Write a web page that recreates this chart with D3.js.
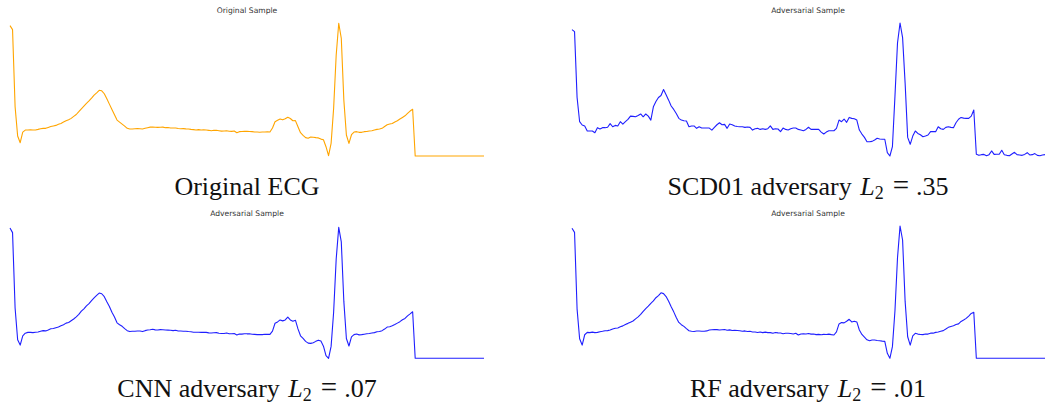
<!DOCTYPE html>
<html>
<head>
<meta charset="utf-8">
<script src="https://cdn.jsdelivr.net/npm/d3@7"></script>
<style>
  body { margin: 0; background: #fff; }
  .title { font-family: "DejaVu Sans", sans-serif; font-size: 7.6px; fill: #333; }
  .caption { font-family: "Liberation Serif", "Times New Roman", serif; font-size: 26px; fill: #111; }
</style>
</head>
<body>
<svg id="chart" width="1045" height="404"></svg>
<script>
// heartbeat samples (187 per beat), normalised 0..1
const originalEcg = [
  0.980, 0.950, 0.370, 0.150, 0.100, 0.180, 0.195, 0.195, 0.197, 0.195,
  0.196, 0.200, 0.205, 0.208, 0.208, 0.215, 0.222, 0.226, 0.230, 0.238,
  0.245, 0.255, 0.265, 0.272, 0.283, 0.298, 0.312, 0.333, 0.355, 0.375,
  0.395, 0.414, 0.435, 0.458, 0.475, 0.494, 0.490, 0.468, 0.430, 0.390,
  0.350, 0.310, 0.270, 0.255, 0.240, 0.225, 0.208, 0.203, 0.203, 0.205,
  0.207, 0.205, 0.203, 0.208, 0.213, 0.217, 0.218, 0.216, 0.215, 0.216,
  0.217, 0.213, 0.214, 0.211, 0.210, 0.211, 0.207, 0.205, 0.206, 0.204,
  0.203, 0.200, 0.198, 0.196, 0.198, 0.195, 0.197, 0.195, 0.193, 0.190,
  0.194, 0.193, 0.190, 0.187, 0.188, 0.190, 0.186, 0.185, 0.188, 0.175,
  0.183, 0.184, 0.185, 0.186, 0.184, 0.183, 0.180, 0.180, 0.179, 0.180,
  0.181, 0.182, 0.180, 0.210, 0.258, 0.268, 0.278, 0.272, 0.280, 0.291,
  0.282, 0.265, 0.266, 0.220, 0.175, 0.155, 0.138, 0.133, 0.143, 0.141,
  0.138, 0.136, 0.127, 0.122, 0.070, 0.003, 0.095, 0.360, 0.760, 0.998,
  0.885, 0.420, 0.158, 0.095, 0.160, 0.180, 0.183, 0.178, 0.178, 0.183,
  0.184, 0.188, 0.190, 0.195, 0.200, 0.203, 0.208, 0.222, 0.235, 0.240,
  0.245, 0.256, 0.265, 0.278, 0.290, 0.302, 0.320, 0.338, 0.351, 0,
  0, 0, 0, 0, 0, 0, 0, 0, 0, 0,
  0, 0, 0, 0, 0, 0, 0, 0, 0, 0,
  0, 0, 0, 0, 0, 0, 0
];

const scd01Adv = [
  0.950, 0.935, 0.440, 0.258, 0.233, 0.226, 0.188, 0.188, 0.188, 0.175,
  0.213, 0.203, 0.213, 0.213, 0.216, 0.243, 0.220, 0.230, 0.226, 0.258,
  0.240, 0.258, 0.275, 0.300, 0.298, 0.295, 0.305, 0.316, 0.295, 0.316,
  0.300, 0.270, 0.370, 0.410, 0.440, 0.455, 0.500, 0.460, 0.420, 0.376,
  0.350, 0.320, 0.283, 0.270, 0.265, 0.263, 0.220, 0.226, 0.226, 0.208,
  0.220, 0.210, 0.210, 0.210, 0.210, 0.195, 0.215, 0.235, 0.250, 0.235,
  0.238, 0.208, 0.240, 0.235, 0.226, 0.222, 0.220, 0.220, 0.215, 0.218,
  0.215, 0.195, 0.205, 0.208, 0.200, 0.205, 0.200, 0.205, 0.226, 0.200,
  0.205, 0.203, 0.183, 0.210, 0.200, 0.195, 0.205, 0.210, 0.210, 0.200,
  0.195, 0.190, 0.200, 0.216, 0.200, 0.200, 0.200, 0.200, 0.180, 0.165,
  0.180, 0.190, 0.190, 0.190, 0.208, 0.270, 0.258, 0.278, 0.253, 0.290,
  0.283, 0.280, 0.270, 0.195, 0.165, 0.140, 0.107, 0.107, 0.110, 0.120,
  0.133, 0.128, 0.126, 0.126, 0.025, 0.000, 0.070, 0.450, 0.850, 1.000,
  0.890, 0.547, 0.140, 0.088, 0.150, 0.188, 0.170, 0.160, 0.145, 0.150,
  0.158, 0.183, 0.183, 0.183, 0.220, 0.205, 0.200, 0.215, 0.220, 0.215,
  0.213, 0.250, 0.276, 0.290, 0.285, 0.283, 0.283, 0.300, 0.346, 0.013,
  0.005, 0.010, 0.012, 0.002, 0.010, 0.038, 0.012, 0.013, 0.013, 0.043,
  0.010, 0.005, 0.002, 0.015, 0.028, 0.010, 0.008, 0.005, 0.012, 0.025,
  0.008, 0.010, 0.018, 0.005, 0.002, 0.008, 0.010
];

const cnnAdv = [
  0.985, 0.950, 0.380, 0.140, 0.100, 0.170, 0.190, 0.196, 0.196, 0.194,
  0.197, 0.199, 0.204, 0.209, 0.207, 0.214, 0.223, 0.225, 0.231, 0.237,
  0.246, 0.254, 0.266, 0.271, 0.284, 0.297, 0.313, 0.332, 0.356, 0.374,
  0.396, 0.413, 0.436, 0.457, 0.476, 0.493, 0.488, 0.466, 0.428, 0.392,
  0.348, 0.312, 0.268, 0.254, 0.242, 0.224, 0.209, 0.202, 0.204, 0.204,
  0.206, 0.206, 0.202, 0.209, 0.214, 0.216, 0.219, 0.215, 0.214, 0.217,
  0.216, 0.214, 0.213, 0.212, 0.209, 0.212, 0.206, 0.206, 0.205, 0.205,
  0.202, 0.201, 0.197, 0.197, 0.197, 0.196, 0.196, 0.196, 0.192, 0.191,
  0.193, 0.194, 0.189, 0.188, 0.187, 0.191, 0.185, 0.186, 0.187, 0.176,
  0.184, 0.183, 0.186, 0.185, 0.185, 0.182, 0.181, 0.179, 0.180, 0.179,
  0.182, 0.181, 0.181, 0.205, 0.265, 0.275, 0.290, 0.283, 0.290, 0.312,
  0.290, 0.280, 0.288, 0.222, 0.170, 0.150, 0.128, 0.115, 0.113, 0.118,
  0.128, 0.137, 0.130, 0.092, 0.020, 0.000, 0.090, 0.350, 0.750, 0.990,
  0.880, 0.430, 0.150, 0.093, 0.162, 0.179, 0.184, 0.177, 0.179, 0.182,
  0.185, 0.187, 0.191, 0.194, 0.201, 0.202, 0.209, 0.221, 0.236, 0.239,
  0.246, 0.255, 0.266, 0.277, 0.291, 0.301, 0.321, 0.336, 0.352, 0,
  0, 0, 0, 0, 0, 0, 0, 0, 0, 0,
  0, 0, 0, 0, 0, 0, 0, 0, 0, 0,
  0, 0, 0, 0, 0, 0, 0
];

const rfAdv = [
  0.983, 0.952, 0.372, 0.148, 0.100, 0.178, 0.196, 0.194, 0.198, 0.194,
  0.196, 0.201, 0.204, 0.208, 0.209, 0.214, 0.222, 0.227, 0.229, 0.238,
  0.245, 0.256, 0.264, 0.273, 0.282, 0.298, 0.313, 0.332, 0.355, 0.376,
  0.394, 0.415, 0.434, 0.458, 0.474, 0.495, 0.489, 0.467, 0.431, 0.389,
  0.351, 0.309, 0.271, 0.254, 0.241, 0.224, 0.208, 0.204, 0.202, 0.206,
  0.206, 0.205, 0.204, 0.207, 0.214, 0.216, 0.218, 0.217, 0.214, 0.216,
  0.218, 0.212, 0.215, 0.210, 0.211, 0.210, 0.208, 0.204, 0.207, 0.203,
  0.204, 0.199, 0.199, 0.195, 0.199, 0.194, 0.198, 0.194, 0.194, 0.189,
  0.195, 0.192, 0.191, 0.186, 0.189, 0.189, 0.187, 0.184, 0.189, 0.176,
  0.184, 0.185, 0.184, 0.187, 0.183, 0.184, 0.179, 0.181, 0.178, 0.181,
  0.180, 0.183, 0.179, 0.176, 0.200, 0.260, 0.270, 0.268, 0.280, 0.295,
  0.275, 0.280, 0.275, 0.214, 0.180, 0.160, 0.140, 0.133, 0.138, 0.138,
  0.135, 0.133, 0.130, 0.128, 0.038, 0.000, 0.088, 0.360, 0.760, 1.000,
  0.894, 0.430, 0.163, 0.100, 0.170, 0.189, 0.183, 0.180, 0.179, 0.184,
  0.183, 0.190, 0.190, 0.196, 0.199, 0.204, 0.209, 0.221, 0.234, 0.241,
  0.246, 0.255, 0.260, 0.279, 0.289, 0.302, 0.319, 0.339, 0.348, 0,
  0, 0, 0, 0, 0, 0, 0, 0, 0, 0,
  0, 0, 0, 0, 0, 0, 0, 0, 0, 0,
  0, 0, 0, 0, 0, 0, 0
];

const panelTitles = ['Original Sample', 'Adversarial Sample', 'Adversarial Sample', 'Adversarial Sample'];
const captionText = ['Original ECG', 'SCD01 adversary', 'CNN adversary', 'RF adversary'];
const captionL2 = [null, '.35', '.07', '.01'];

const svg = d3.select('#chart');

// grid of 2x2 panels
const cols = [{ x0: 10, x1: 484, cx: 247 }, { x0: 572, x1: 1045, cx: 808 }];
const rows = [
  { top: 23, base: 156, titleY: 13, capY: 195 },
  { top: 226, base: 358.3, titleY: 216, capY: 397 }
];

const panels = [
  { data: originalEcg, color: '#ffa500', col: 0, row: 0 },
  { data: scd01Adv, color: '#1f1fff', col: 1, row: 0 },
  { data: cnnAdv, color: '#1f1fff', col: 0, row: 1 },
  { data: rfAdv, color: '#1f1fff', col: 1, row: 1 }
];

panels.forEach((p, k) => {
  const c = cols[p.col];
  const r = rows[p.row];

  const xScale = d3.scaleLinear()
    .domain([0, p.data.length - 1])
    .range([c.x0, c.x1]);

  const yScale = d3.scaleLinear()
    .domain([0, 1])
    .range([r.base, r.top]);

  const line = d3.line()
    .x((d, i) => xScale(i))
    .y(d => yScale(d));

  svg.append('path')
    .datum(p.data)
    .attr('fill', 'none')
    .attr('stroke', p.color)
    .attr('stroke-width', 1.1)
    .attr('stroke-linejoin', 'round')
    .attr('d', line);

  svg.append('text')
    .attr('class', 'title')
    .attr('x', c.cx)
    .attr('y', r.titleY)
    .attr('text-anchor', 'middle')
    .text(panelTitles[k]);

  const cap = svg.append('text')
    .attr('class', 'caption')
    .attr('x', c.cx)
    .attr('y', r.capY)
    .attr('text-anchor', 'middle');

  if (captionL2[k] === null) {
    cap.text(captionText[k]);
  } else {
    cap.append('tspan').text(captionText[k] + ' ');
    cap.append('tspan').attr('font-style', 'italic').attr('dx', 2).text('L');
    cap.append('tspan').attr('font-size', '18px').attr('dy', 4).text('2');
    cap.append('tspan').attr('dx', 9).attr('dy', -4).attr('font-size', '29px').text('=');
    cap.append('tspan').attr('dx', 7).text(captionL2[k]);
  }
});
</script>
</body>
</html>
